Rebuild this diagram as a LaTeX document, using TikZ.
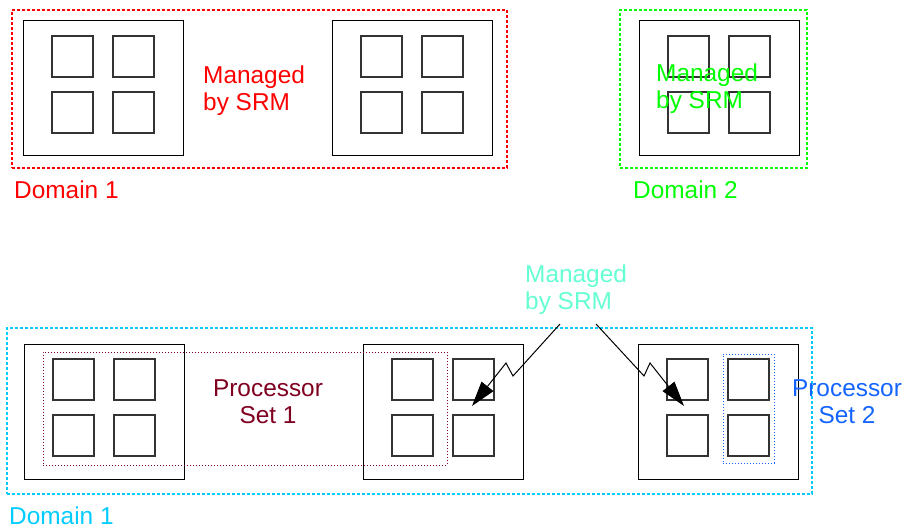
\documentclass[tikz,border=0pt]{standalone}
\usepackage{fontspec}
\setmainfont{Liberation Sans}
\usetikzlibrary{arrows.meta}
\definecolor{domred}{RGB}{255,0,0}
\definecolor{domgreen}{RGB}{0,255,0}
\definecolor{domcyan}{RGB}{0,204,255}
\definecolor{srmaqua}{RGB}{100,255,210}
\definecolor{psred}{RGB}{128,0,32}
\definecolor{psblue}{RGB}{20,100,255}
\begin{document}
\begin{tikzpicture}[x=1pt,y=-1pt,
  box/.style={draw, inner sep=0pt, outer sep=0pt, anchor=north west},
  boardbox/.style={box, line width=1pt, minimum width=160pt, minimum height=135pt},
  cpu/.style={box, draw=black!80, line width=1.3pt, minimum size=41pt},
  domainbox/.style={box, line width=2.6pt, dash pattern=on 3pt off 2pt},
  psetbox/.style={box, line width=0.9pt, dash pattern=on 1pt off 2pt},
  lbl/.style={font=\fontsize{24.4}{27.5}\selectfont, inner sep=0pt},
  srmarrow/.style={line width=1pt, -{Triangle[length=25pt,width=15pt]}},
  board/.pic={
    \node[boardbox] (-b) at (0,0) {};
    \node[cpu] (-c1) at (29,15) {};
    \node[cpu] (-c2) at (90,15) {};
    \node[cpu] (-c3) at (29,71) {};
    \node[cpu] (-c4) at (90,71) {};
  }]
\useasboundingbox (0,0) rectangle (907,529);

% top row
\pic (b1) at (23,21) {board};
\pic (b2) at (332,21) {board};
\pic (b3) at (639,21) {board};
\node[domainbox, draw=domred, minimum width=495pt, minimum height=158pt] (dom1) at (12,10) {};
\node[domainbox, draw=domgreen, minimum width=187pt, minimum height=158pt] (dom2) at (620,10) {};
\node[lbl, text=domred, align=left, anchor=north west] (srm1) at (203,65.5) {Managed\\by SRM};
\node[lbl, text=domgreen, align=left, anchor=north west] (srm2) at (656,63.5) {Managed\\by SRM};
\node[lbl, text=domred, anchor=base west] (dl1) at (14,199) {Domain 1};
\node[lbl, text=domgreen, anchor=base west] (dl2) at (633,199) {Domain 2};

% bottom row
\pic (b4) at (24,344) {board};
\pic (b5) at (363,344) {board};
\pic (b6) at (638,344) {board};
\node[domainbox, draw=domcyan, minimum width=805pt, minimum height=166pt] (dom3) at (7,328) {};
\node[psetbox, draw=psred, minimum width=404pt, minimum height=113pt] (ps1) at (43,352) {};
\node[psetbox, draw=psblue, minimum width=51pt, minimum height=109pt] (ps2) at (723,354) {};
\node[lbl, text=psred, align=center, anchor=north] (ps1l) at (268,379.5) {Processor\\Set 1};
\node[lbl, text=psblue, align=center, anchor=north] (ps2l) at (847,379.5) {Processor\\Set 2};
\node[lbl, text=srmaqua, align=left, anchor=north west] (srm3) at (525,264.5) {Managed\\by SRM};
\node[lbl, text=domcyan, anchor=base west] (dl3) at (9,524) {Domain 1};

% arrows
\coordinate (a1s) at (560,324);
\coordinate (a1k) at (513,376);
\coordinate (a1j) at (506,363);
\coordinate (a1e) at (472,406);
\coordinate (a2s) at (596,324);
\coordinate (a2k) at (644,376);
\coordinate (a2j) at (650,363);
\coordinate (a2e) at (684,406);
\draw[srmarrow] (a1s) -- (a1k) -- (a1j) -- (a1e);
\draw[srmarrow] (a2s) -- (a2k) -- (a2j) -- (a2e);
\end{tikzpicture}
\end{document}
